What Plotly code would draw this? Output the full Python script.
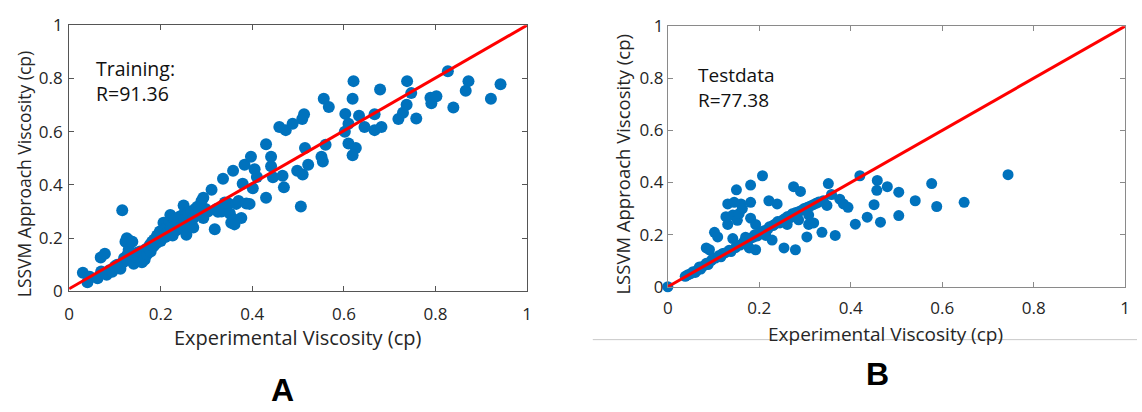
import plotly.graph_objects as go

# Training set: experimental vs. LSSVM predicted viscosity (cp)
train_exp = [0.030, 0.040, 0.045, 0.062, 0.069, 0.078, 0.070, 0.082, 0.088, 0.094,
             0.100, 0.105, 0.109, 0.112, 0.116, 0.118, 0.120, 0.123, 0.126, 0.130,
             0.133, 0.138, 0.123, 0.128, 0.135, 0.141, 0.145, 0.148, 0.152, 0.155,
             0.159, 0.163, 0.165, 0.168, 0.170, 0.174, 0.176, 0.178, 0.181, 0.184,
             0.186, 0.190, 0.192, 0.195, 0.198, 0.200, 0.203, 0.206, 0.208, 0.210,
             0.213, 0.216, 0.219, 0.221, 0.223, 0.226, 0.228, 0.231, 0.234, 0.237,
             0.240, 0.243, 0.246, 0.250, 0.252, 0.256, 0.259, 0.263, 0.266, 0.271,
             0.271, 0.275, 0.280, 0.284, 0.289, 0.293, 0.293, 0.298, 0.303, 0.311,
             0.318, 0.322, 0.325, 0.333, 0.336, 0.340, 0.348, 0.351, 0.354, 0.358,
             0.360, 0.361, 0.365, 0.370, 0.376, 0.379, 0.383, 0.387, 0.394, 0.397,
             0.401, 0.405, 0.410, 0.430, 0.430, 0.441, 0.441, 0.445, 0.459, 0.466,
             0.473, 0.488, 0.469, 0.498, 0.506, 0.509, 0.513, 0.510, 0.515, 0.522,
             0.551, 0.554, 0.560, 0.556, 0.567, 0.603, 0.610, 0.602, 0.610, 0.626,
             0.619, 0.621, 0.619, 0.633, 0.645, 0.667, 0.667, 0.682, 0.679, 0.719,
             0.729, 0.737, 0.738, 0.747, 0.758, 0.789, 0.791, 0.802, 0.827, 0.839,
             0.866, 0.872, 0.921, 0.942]
train_pred = [0.070, 0.035, 0.055, 0.050, 0.128, 0.142, 0.075, 0.063, 0.080, 0.074,
              0.095, 0.100, 0.092, 0.085, 0.305, 0.110, 0.125, 0.187, 0.200, 0.157,
              0.190, 0.187, 0.127, 0.140, 0.120, 0.104, 0.130, 0.145, 0.135, 0.150,
              0.110, 0.145, 0.120, 0.160, 0.140, 0.163, 0.175, 0.150, 0.187, 0.170,
              0.195, 0.180, 0.210, 0.200, 0.225, 0.190, 0.215, 0.258, 0.232, 0.205,
              0.240, 0.222, 0.265, 0.287, 0.245, 0.210, 0.250, 0.270, 0.230, 0.262,
              0.280, 0.240, 0.285, 0.323, 0.270, 0.213, 0.295, 0.250, 0.300, 0.240,
              0.275, 0.310, 0.318, 0.300, 0.340, 0.352, 0.276, 0.310, 0.300, 0.382,
              0.234, 0.310, 0.299, 0.300, 0.423, 0.334, 0.330, 0.293, 0.258, 0.453,
              0.270, 0.252, 0.329, 0.340, 0.276, 0.405, 0.476, 0.330, 0.329, 0.506,
              0.388, 0.459, 0.430, 0.553, 0.352, 0.506, 0.470, 0.429, 0.618, 0.435,
              0.606, 0.630, 0.391, 0.453, 0.319, 0.648, 0.666, 0.439, 0.539, 0.476,
              0.506, 0.488, 0.551, 0.724, 0.693, 0.667, 0.630, 0.600, 0.556, 0.539,
              0.512, 0.790, 0.724, 0.660, 0.618, 0.666, 0.606, 0.618, 0.759, 0.648,
              0.671, 0.701, 0.790, 0.745, 0.650, 0.728, 0.707, 0.733, 0.827, 0.691,
              0.754, 0.790, 0.724, 0.778]

# Test set
test_exp = [0.000, 0.038, 0.044, 0.050, 0.055, 0.060, 0.065, 0.069, 0.072, 0.078,
            0.084, 0.088, 0.084, 0.091, 0.095, 0.098, 0.102, 0.104, 0.109, 0.112,
            0.116, 0.120, 0.125, 0.127, 0.131, 0.131, 0.134, 0.138, 0.142, 0.142,
            0.145, 0.148, 0.150, 0.152, 0.156, 0.158, 0.160, 0.163, 0.165, 0.170,
            0.172, 0.174, 0.178, 0.180, 0.181, 0.181, 0.181, 0.186, 0.190, 0.192,
            0.192, 0.196, 0.200, 0.204, 0.207, 0.210, 0.214, 0.218, 0.221, 0.222,
            0.228, 0.230, 0.234, 0.239, 0.240, 0.245, 0.250, 0.254, 0.256, 0.261,
            0.262, 0.268, 0.272, 0.275, 0.279, 0.280, 0.286, 0.288, 0.290, 0.294,
            0.298, 0.304, 0.305, 0.308, 0.308, 0.312, 0.318, 0.319, 0.324, 0.330,
            0.337, 0.340, 0.348, 0.351, 0.358, 0.366, 0.376, 0.384, 0.394, 0.410,
            0.420, 0.436, 0.451, 0.457, 0.458, 0.465, 0.480, 0.505, 0.505, 0.541,
            0.577, 0.588, 0.648, 0.744]
test_pred = [0.000, 0.040, 0.046, 0.050, 0.058, 0.055, 0.065, 0.076, 0.068, 0.080,
             0.090, 0.085, 0.149, 0.142, 0.100, 0.107, 0.209, 0.110, 0.191, 0.120,
             0.115, 0.128, 0.130, 0.269, 0.318, 0.239, 0.140, 0.135, 0.275, 0.185,
             0.324, 0.150, 0.372, 0.255, 0.281, 0.160, 0.318, 0.300, 0.170, 0.190,
             0.175, 0.173, 0.149, 0.185, 0.390, 0.324, 0.263, 0.190, 0.200, 0.239,
             0.142, 0.195, 0.203, 0.210, 0.426, 0.215, 0.197, 0.220, 0.330, 0.230,
             0.179, 0.235, 0.240, 0.318, 0.250, 0.245, 0.255, 0.149, 0.262, 0.239,
             0.270, 0.265, 0.280, 0.384, 0.142, 0.285, 0.257, 0.290, 0.366, 0.295,
             0.300, 0.191, 0.305, 0.275, 0.239, 0.310, 0.315, 0.245, 0.320, 0.325,
             0.209, 0.330, 0.312, 0.396, 0.354, 0.197, 0.336, 0.318, 0.305, 0.240,
             0.426, 0.267, 0.315, 0.370, 0.408, 0.248, 0.384, 0.363, 0.273, 0.330,
             0.396, 0.308, 0.324, 0.430]

diag = [0, 1]
ticks = [0, 0.2, 0.4, 0.6, 0.8, 1]
tick_text = ["0", "0.2", "0.4", "0.6", "0.8", "1"]

BLUE = "#0072BD"
RED = "#FF0000"
FONT = "Open Sans"
W, H = 1142, 412

fig = go.Figure()

fig.add_trace(go.Scatter(x=train_exp, y=train_pred, mode="markers",
                         marker=dict(color=BLUE, size=12, line=dict(width=0)),
                         xaxis="x", yaxis="y", showlegend=False, cliponaxis=False))
fig.add_trace(go.Scatter(x=diag, y=[0.01, 1], mode="lines",
                         line=dict(color=RED, width=3),
                         xaxis="x", yaxis="y", showlegend=False))
fig.add_trace(go.Scatter(x=test_exp, y=test_pred, mode="markers",
                         marker=dict(color=BLUE, size=11, line=dict(width=0)),
                         xaxis="x2", yaxis="y2", showlegend=False, cliponaxis=False))
fig.add_trace(go.Scatter(x=diag, y=diag, mode="lines",
                         line=dict(color=RED, width=3),
                         xaxis="x2", yaxis="y2", showlegend=False))


def px_x(p):
    return p / W


def px_y(p):
    return 1 - p / H


def axis(domain, anchor, line_color, standoff):
    return dict(domain=domain, anchor=anchor, range=[0, 1], tickvals=ticks,
                ticktext=tick_text, ticks="inside", ticklen=5, tickcolor=line_color,
                showline=True, linecolor=line_color, linewidth=1, mirror="allticks",
                showgrid=False, zeroline=False, fixedrange=True,
                ticklabelstandoff=standoff,
                tickfont=dict(family=FONT, size=17, color="#262626"))


fig.update_layout(
    width=W, height=H,
    margin=dict(l=0, r=0, t=0, b=0),
    paper_bgcolor="white", plot_bgcolor="white",
    xaxis=axis([px_x(64.7), px_x(526.7)], "y", "#555555", 7),
    yaxis=axis([px_y(296), px_y(14)], "x", "#555555", 2),
    xaxis2=axis([px_x(668.7), px_x(1130)], "y2", "#8a8a8a", 6),
    yaxis2=axis([px_y(291), px_y(15)], "x2", "#8a8a8a", 0),
)

title_font = dict(family=FONT, size=20, color="#262626")
text_left = dict(family=FONT, size=19.5, color="#111111")
text_right = dict(family=FONT, size=19, color="#111111")
annotations = [
    dict(text="Experimental Viscosity (cp)", x=px_x(296), y=px_y(345), xref="paper",
         yref="paper", showarrow=False, font=title_font, xanchor="center", yanchor="middle"),
    dict(text="LSSVM Approach Viscosity (cp)", x=px_x(20), y=px_y(172), xref="paper",
         yref="paper", showarrow=False, font=dict(family=FONT, size=17.5, color="#262626"),
         textangle=-90, xanchor="center", yanchor="middle"),
    dict(text="Experimental Viscosity (cp)", x=px_x(888), y=px_y(341), xref="paper",
         yref="paper", showarrow=False, font=dict(family=FONT, size=19, color="#262626"),
         xanchor="center", yanchor="middle"),
    dict(text="LSSVM Approach Viscosity (cp)", x=px_x(622), y=px_y(161), xref="paper",
         yref="paper", showarrow=False, font=dict(family=FONT, size=18.5, color="#262626"),
         textangle=-90, xanchor="center", yanchor="middle"),
    dict(text="Training:<br>R=91.36", x=0.055, y=0.789, xref="x", yref="y",
         showarrow=False, font=text_left, align="left", xanchor="left", yanchor="middle"),
    dict(text="Testdata<br>R=77.38", x=0.062, y=0.766, xref="x2", yref="y2",
         showarrow=False, font=text_right, align="left", xanchor="left", yanchor="middle"),
    dict(text="<b>A</b>", x=px_x(280), y=px_y(400), xref="paper", yref="paper",
         showarrow=False, font=dict(family="Liberation Sans Narrow, Liberation Sans", size=32, color="black"),
         xanchor="center", yanchor="middle"),
    dict(text="<b>B</b>", x=px_x(880), y=px_y(383), xref="paper", yref="paper",
         showarrow=False, font=dict(family="Liberation Sans Narrow, Liberation Sans", size=32, color="black"),
         xanchor="center", yanchor="middle"),
]
fig.update_layout(annotations=annotations)

# thin rule beneath the right-hand panel
fig.add_shape(type="line", xref="paper", yref="paper",
              x0=px_x(593), x1=1, y0=px_y(347), y1=px_y(347),
              line=dict(color="#c8c8c8", width=1))

fig.write_html("out.html")
